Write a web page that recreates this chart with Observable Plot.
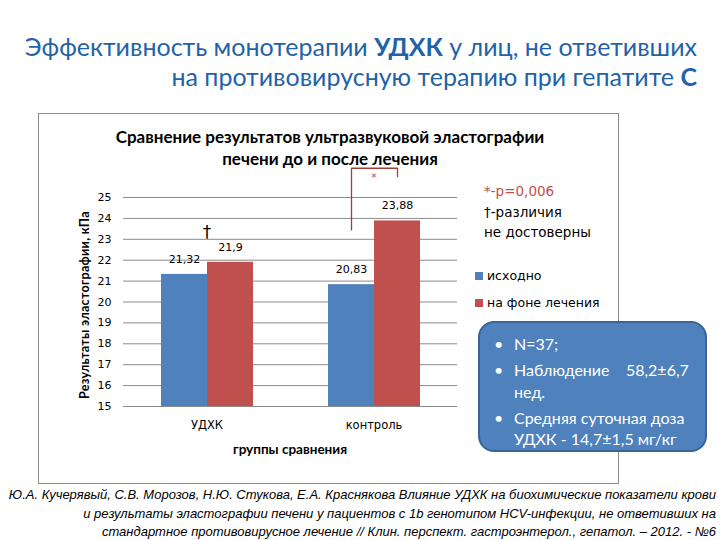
<!DOCTYPE html>
<html><head><meta charset="utf-8">
<script src="https://cdn.jsdelivr.net/npm/d3@7"></script>
<script src="https://cdn.jsdelivr.net/npm/@observablehq/plot@0.6"></script>
<style>
body{margin:0;background:#fff;}
#page{position:relative;width:720px;height:540px;overflow:hidden;font-family:Lato,sans-serif;background:#fff;}
.abs{position:absolute;}
#title{right:23px;top:31px;text-align:right;color:#1F63A8;font-size:25px;line-height:30px;white-space:nowrap;}
#frame{left:38px;top:113px;width:581px;height:371px;border:1.5px solid #8c8c8c;box-sizing:border-box;}
#ctitle{left:90px;width:480px;top:126px;text-align:center;font-weight:bold;font-size:17px;line-height:22px;color:#000;}
#chart{left:40px;top:150px;}
#ylab{left:84px;top:305px;transform:translate(-50%,-50%) rotate(-90deg);font-weight:bold;font-size:12.5px;white-space:nowrap;letter-spacing:0.3px;}
#xlab{left:290px;top:449px;transform:translate(-50%,-50%);font-weight:bold;font-size:13.5px;white-space:nowrap;}
#notes{left:484px;top:181px;font-family:"DejaVu Sans",sans-serif;font-size:13.5px;line-height:20.5px;color:#000;}
#notes .red{color:#C0504D;}
#legend{left:475px;top:262px;font-family:"DejaVu Sans",sans-serif;font-size:12.5px;}
#legend .item{display:flex;align-items:center;height:27px;}
#legend .sw{width:8px;height:8px;margin-right:4px;}
#box{left:478px;top:321px;width:229px;height:131px;background:#4F81BD;border:2px solid #3A6496;border-radius:16px;box-sizing:border-box;color:#fff;font-size:16px;}
#box ul{margin:0;padding:0;list-style:none;position:absolute;left:14px;top:10px;width:205px;}
#box li{position:relative;padding-left:20px;line-height:21.5px;margin-bottom:4.5px;}
#box li:before{content:"•";position:absolute;left:0;}
#caption{right:4px;top:486px;text-align:right;font-family:"Liberation Sans Narrow","Liberation Sans",sans-serif;font-style:italic;font-size:13px;line-height:18.5px;white-space:nowrap;color:#000;}
</style></head>
<body><div id="page">
<div id="title" class="abs">Эффективность монотерапии <b>УДХК</b> у лиц, не ответивших<br>на противовирусную терапию при гепатите <b>С</b></div>
<div id="frame" class="abs"></div>
<div id="ctitle" class="abs">Сравнение результатов ультразвуковой эластографии<br>печени до и после лечения</div>
<div id="chart" class="abs"></div>
<div id="ylab" class="abs">Результаты эластографии, кПа</div>
<div id="xlab" class="abs">группы сравнения</div>
<div id="notes" class="abs"><span class="red">*-p=0,006</span><br>†-различия<br>не достоверны</div>
<div id="legend" class="abs"></div>
<div id="box" class="abs"><ul><li>N=37;</li><li>Наблюдение&nbsp;&nbsp;&nbsp; 58,2±6,7<br>нед.</li><li>Средняя суточная доза<br>УДХК - 14,7±1,5 мг/кг</li></ul></div>
<div id="caption" class="abs">Ю.А. Кучерявый, С.В. Морозов, Н.Ю. Стукова, Е.А. Краснякова Влияние УДХК на биохимические показатели крови<br>и результаты эластографии печени у пациентов с 1b генотипом HCV-инфекции, не ответивших на<br>стандартное противовирусное лечение // Клин. перспект. гастроэнтерол., гепатол. – 2012. - №6</div>
</div>
<script>
const groups = ["УДХК", "контроль"];
const series = ["исходно", "на фоне лечения"];
const baseline = [21.32, 20.83];
const treatment = [21.9, 23.88];
const yTicks = [15, 16, 17, 18, 19, 20, 21, 22, 23, 24, 25];
const seriesColors = ["#4F81BD", "#C0504D"];
const yMin = 15, yMax = 25;
// significance annotations
const daggerGroup = "УДХК", daggerY = 23.3;
const bracketGroup = "контроль";
const bracketY = [23.45, 26.4, 26.4, 26.0];
const starY = 25.95;

const rows = [];
groups.forEach((g, i) => {
  rows.push({group: g, series: series[0], value: baseline[i]});
  rows.push({group: g, series: series[1], value: treatment[i]});
});
const bracket = [
  {group: bracketGroup, series: series[0], y: bracketY[0]},
  {group: bracketGroup, series: series[0], y: bracketY[1]},
  {group: bracketGroup, series: series[1], y: bracketY[2]},
  {group: bracketGroup, series: series[1], y: bracketY[3]}
];
const fmt = v => String(v).replace(".", ",");

const chart = Plot.plot({
  width: 440, height: 300,
  marginTop: 47, marginBottom: 44, marginLeft: 82, marginRight: 23,
  style: {fontFamily: "DejaVu Sans, sans-serif", fontSize: "11px", color: "#000", background: "transparent", overflow: "visible"},
  fx: {domain: groups, padding: 0, label: null},
  x: {domain: series, paddingInner: 0, paddingOuter: 0.78, axis: null},
  y: {domain: [yMin, yMax], label: null},
  color: {domain: series, range: seriesColors},
  marks: [
    Plot.gridY(yTicks, {stroke: "#8a8a8a", strokeOpacity: 1, strokeWidth: 1}),
    Plot.barY(rows, {fx: "group", x: "series", y1: yMin, y2: "value", fill: "series"}),
    Plot.text(rows, {fx: "group", x: "series", y: "value", text: d => fmt(d.value), dy: -15, fill: "#000", fontSize: 11}),
    Plot.axisY({ticks: yTicks, tickSize: 0, tickPadding: 12, label: null, fontSize: 11}),
    Plot.axisFx({anchor: "bottom", tickSize: 0, tickPadding: 14, label: null, fontSize: 11.5}),
    Plot.text([{group: daggerGroup}], {fx: "group", y: () => daggerY, text: () => "†", fontSize: 17, fill: "#000"}),
    Plot.line(bracket, {fx: "group", x: "series", y: "y", stroke: "#A83A3A", strokeWidth: 1.3}),
    Plot.text([{group: bracketGroup}], {fx: "group", y: () => starY, text: () => "*", fontSize: 11, fill: "#C0504D"})
  ]
});
document.getElementById("chart").appendChild(chart);

const legend = document.getElementById("legend");
series.forEach((s, i) => {
  const it = document.createElement("div");
  it.className = "item";
  const sw = document.createElement("span");
  sw.className = "sw"; sw.style.background = seriesColors[i];
  it.appendChild(sw);
  it.appendChild(document.createTextNode(s));
  legend.appendChild(it);
});
</script>
</body></html>
